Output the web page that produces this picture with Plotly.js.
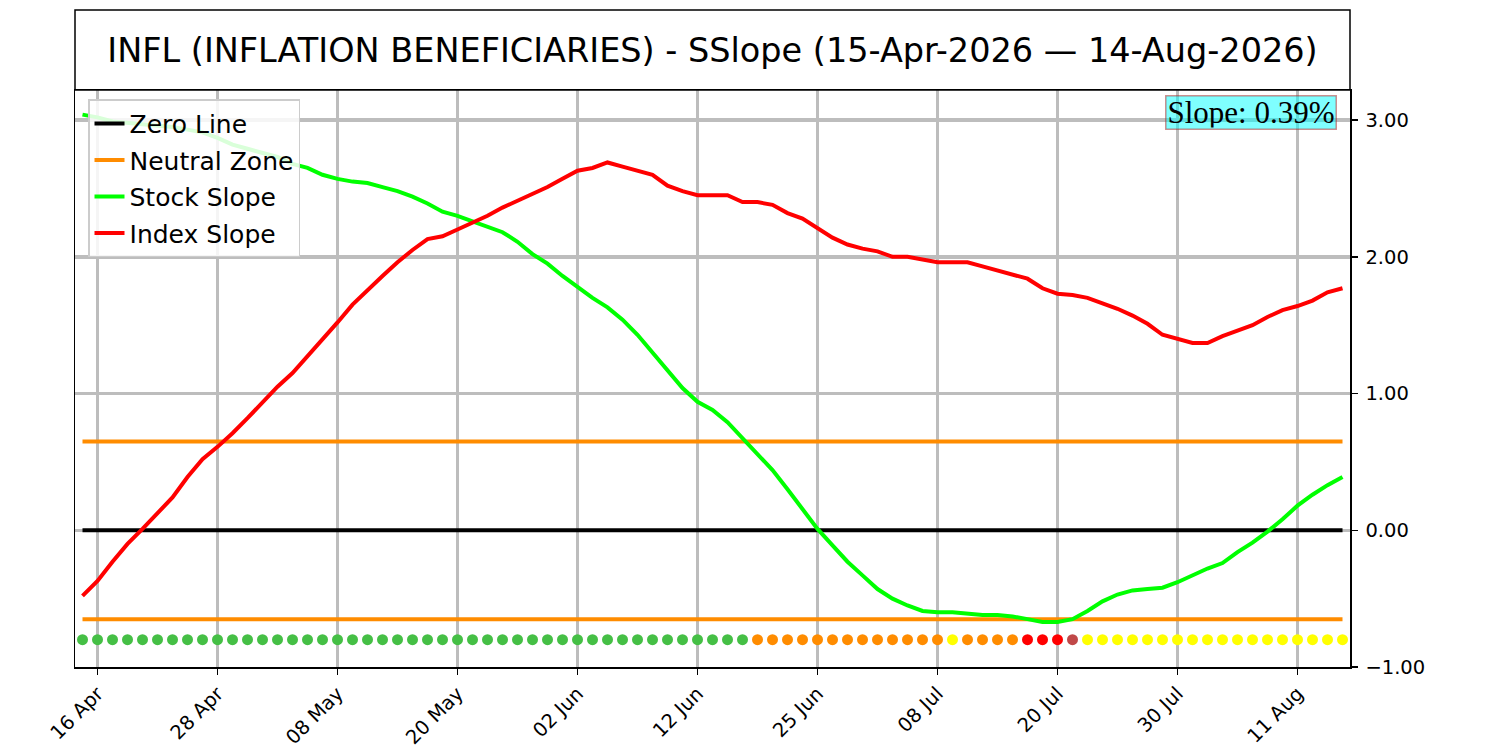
<!DOCTYPE html>
<html>
<head>
<meta charset="utf-8">
<script src="https://cdn.plot.ly/plotly-3.0.1.min.js"></script>
<style>
  html, body { margin: 0; padding: 0; background: #fff; }
  #chart { width: 1500px; height: 750px; }
</style>
</head>
<body>
<div id="chart"></div>
<script>
// ─── data (one point per trading day, 15-Apr-2026 .. 14-Aug-2026) ───
var stockSlope = [
  3.04, 3.02, 2.99, 2.98, 2.97, 2.96, 2.95, 2.93, 2.91, 2.87, 2.82, 2.79, 2.76, 2.73, 2.68, 2.65, 2.60, 2.57, 2.55, 2.54, 2.51,
  2.48, 2.44, 2.39, 2.33, 2.30, 2.26, 2.22, 2.18, 2.11, 2.02, 1.95, 1.86, 1.78, 1.70, 1.63, 1.54, 1.43, 1.30, 1.17, 1.04, 0.94,
  0.88, 0.79, 0.67, 0.55, 0.44, 0.30, 0.16, 0.01, -0.11, -0.23, -0.33, -0.43, -0.50, -0.55, -0.59, -0.60, -0.60, -0.61, -0.62, -0.62, -0.63,
  -0.65, -0.67, -0.67, -0.65, -0.59, -0.52, -0.47, -0.44, -0.43, -0.42, -0.38, -0.33, -0.28, -0.24, -0.16, -0.09, -0.01, 0.08, 0.18, 0.26, 0.33, 0.39
];
var indexSlope = [
  -0.48, -0.37, -0.23, -0.10, 0.01, 0.12, 0.24, 0.39, 0.52, 0.61, 0.71, 0.82, 0.94, 1.05, 1.15, 1.27, 1.39, 1.52, 1.65, 1.76, 1.86,
  1.96, 2.05, 2.13, 2.15, 2.20, 2.25, 2.30, 2.36, 2.41, 2.46, 2.51, 2.57, 2.63, 2.65, 2.69, 2.66, 2.63, 2.60, 2.52, 2.48, 2.45,
  2.45, 2.45, 2.40, 2.40, 2.38, 2.32, 2.28, 2.21, 2.14, 2.09, 2.06, 2.04, 2.00, 2.00, 1.98, 1.96, 1.96, 1.96, 1.93, 1.90, 1.87,
  1.84, 1.77, 1.73, 1.72, 1.70, 1.66, 1.62, 1.57, 1.51, 1.43, 1.40, 1.37, 1.37, 1.42, 1.46, 1.50, 1.56, 1.61, 1.64, 1.68, 1.74, 1.77
];
// signal state per day, run-length: [state, count]
var signalRuns = [['bull', 45], ['neutral', 13], ['watch', 1], ['neutral', 4], ['bear', 3], ['exit', 1], ['watch', 18]];
var tickIdx = [1, 9, 17, 25, 33, 41, 49, 57, 65, 73, 81];
var tickLabels = ['16 Apr', '28 Apr', '08 May', '20 May', '02 Jun', '12 Jun', '25 Jun', '08 Jul', '20 Jul', '30 Jul', '11 Aug'];
var neutralBand = 0.65;
var signalLevel = -0.8;
var currentSlope = 0.39;
var titleText = 'INFL (INFLATION BENEFICIARIES) - SSlope (15-Apr-2026 \u2014 14-Aug-2026)';

var signalColors = { bull: '#45bf45', neutral: '#ff8c00', watch: '#ffff00', bear: '#ff0000', exit: '#c04848' };

var n = stockSlope.length;
var xs = [];
for (var i = 0; i < n; i++) xs.push(i);

var dotColors = [];
signalRuns.forEach(function (r) {
  for (var k = 0; k < r[1]; k++) dotColors.push(signalColors[r[0]]);
});

var xEnds = [0, n - 1];
var font = 'DejaVu Sans, sans-serif';
var lw = 4;

var traces = [
  { type: 'scatter', mode: 'lines', name: 'Zero Line', x: xEnds, y: [0, 0],
    line: { color: '#000000', width: lw }, legendgroup: 'z' },
  { type: 'scatter', mode: 'lines', name: 'Neutral Zone', x: xEnds, y: [neutralBand, neutralBand],
    line: { color: '#ff8c00', width: lw }, legendgroup: 'nz' },
  { type: 'scatter', mode: 'lines', name: 'Neutral Zone', x: xEnds, y: [-neutralBand, -neutralBand],
    line: { color: '#ff8c00', width: lw }, legendgroup: 'nz', showlegend: false },
  { type: 'scatter', mode: 'lines', name: 'Stock Slope', x: xs, y: stockSlope,
    line: { color: '#00ff00', width: lw }, legendgroup: 's' },
  { type: 'scatter', mode: 'lines', name: 'Index Slope', x: xs, y: indexSlope,
    line: { color: '#ff0000', width: lw }, legendgroup: 'i' },
  { type: 'scatter', mode: 'markers', name: 'Signal', showlegend: false,
    x: xs, y: xs.map(function () { return signalLevel; }),
    marker: { color: dotColors, size: 11, line: { width: 0 } } }
];

var gridColor = '#bdbdbd';

var layout = {
  width: 1500, height: 750,
  paper_bgcolor: '#ffffff', plot_bgcolor: '#ffffff',
  margin: { l: 75, r: 150, t: 90, b: 83 },
  font: { family: font, size: 19.5, color: '#000' },
  title: { text: titleText, xref: 'paper', x: 0.5, xanchor: 'center', y: 0.933, yanchor: 'middle',
    font: { family: font, size: 33.5, color: '#000' } },
  showlegend: true,
  legend: { x: 0.0102, y: 0.984, xanchor: 'left', yanchor: 'top', traceorder: 'grouped',
    bgcolor: 'rgba(255,255,255,0.85)', bordercolor: '#cccccc', borderwidth: 1.5,
    font: { family: font, size: 25 }, itemwidth: 30, tracegroupgap: 1 },
  xaxis: {
    range: [-0.5, n - 0.5], tickmode: 'array', tickvals: tickIdx, ticktext: tickLabels,
    tickangle: -45, ticks: 'outside', ticklen: 6, tickwidth: 1.5, tickcolor: '#000',
    showgrid: true, gridcolor: gridColor, gridwidth: 3.5,
    showline: true, linecolor: '#000', linewidth: 1.5, mirror: true, zeroline: false,
    tickfont: { family: font, size: 19.5 }
  },
  yaxis: {
    side: 'right', range: [-1.0, 3.22], tickmode: 'array', tickvals: [-1, 0, 1, 2, 3],
    tickformat: '.2f', ticks: 'outside', ticklen: 6, tickwidth: 1.5, tickcolor: '#000',
    ticklabelstandoff: 4,
    showgrid: true, gridcolor: gridColor, gridwidth: 3.5,
    showline: true, linecolor: '#000', linewidth: 1.5, mirror: true, zeroline: false,
    tickfont: { family: font, size: 19.5 }
  },
  shapes: [
    { type: 'rect', xref: 'paper', yref: 'paper', x0: 0, x1: 1, y0: 1, y1: 1 + 80 / 577,
      line: { color: '#000', width: 1.5 }, fillcolor: 'rgba(0,0,0,0)' }
  ],
  annotations: [
    { xref: 'paper', yref: 'paper', x: 0.9898, y: 0.9913, xanchor: 'right', yanchor: 'top',
      text: 'Slope: ' + currentSlope.toFixed(2) + '%', showarrow: false,
      font: { family: 'Liberation Serif, Times New Roman, serif', size: 31, color: '#000' },
      height: 30, valign: 'middle',
      bgcolor: 'rgba(0,255,255,0.5)', bordercolor: 'rgba(178,34,34,0.5)', borderwidth: 1.5, borderpad: 1 }
  ]
};

Plotly.newPlot('chart', traces, layout, { staticPlot: true, displayModeBar: false });
</script>
</body>
</html>
